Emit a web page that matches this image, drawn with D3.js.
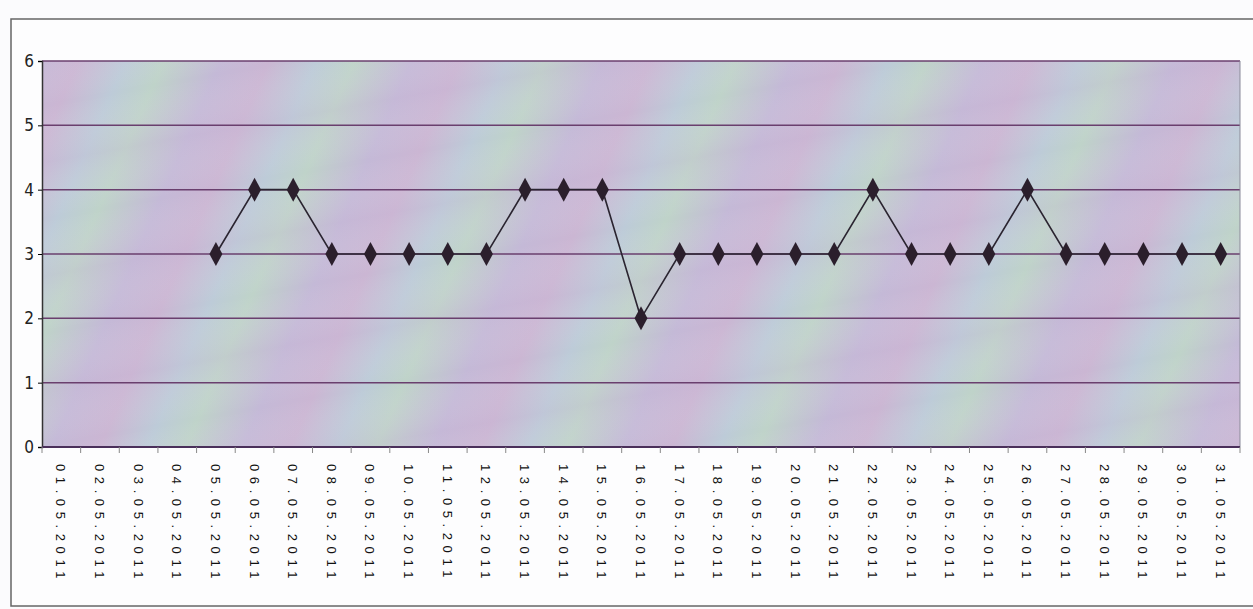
<!DOCTYPE html>
<html>
<head>
<meta charset="utf-8">
<script src="https://cdn.jsdelivr.net/npm/d3@7"></script>
<style>
  body { margin: 0; background: #fbfbfd; }
  svg { display: block; font-family: "Liberation Sans", Arial, sans-serif; }
</style>
</head>
<body>
<svg id="chart" width="1253" height="609"></svg>
<script>
// data
const dates = ["01.05.2011","02.05.2011","03.05.2011","04.05.2011","05.05.2011","06.05.2011",
  "07.05.2011","08.05.2011","09.05.2011","10.05.2011","11.05.2011","12.05.2011","13.05.2011",
  "14.05.2011","15.05.2011","16.05.2011","17.05.2011","18.05.2011","19.05.2011","20.05.2011",
  "21.05.2011","22.05.2011","23.05.2011","24.05.2011","25.05.2011","26.05.2011","27.05.2011",
  "28.05.2011","29.05.2011","30.05.2011","31.05.2011"];
const values = [null,null,null,null,3,4,4,3,3,3,3,3,4,4,4,2,3,3,3,3,3,4,3,3,3,4,3,3,3,3,3];
const yTicks = [0,1,2,3,4,5,6];

const width = 1253, height = 609;
const plot = { left: 42, right: 1240, top: 61, bottom: 447 };

const svg = d3.select("#chart");
const defs = svg.append("defs");

// muted moire bands of the scanned plot area
const g1 = defs.append("linearGradient")
  .attr("id", "bands")
  .attr("gradientUnits", "userSpaceOnUse")
  .attr("spreadMethod", "repeat")
  .attr("x1", 0).attr("y1", 0).attr("x2", 160).attr("y2", 70);
[["0%","#bfd3c9"],["30%","#c4b9d7"],["55%","#cbb6d3"],["80%","#bdcbd8"],["100%","#bfd3c9"]]
  .forEach(s => g1.append("stop").attr("offset", s[0]).attr("stop-color", s[1]));

const g2 = defs.append("linearGradient")
  .attr("id", "bands2")
  .attr("gradientUnits", "userSpaceOnUse")
  .attr("spreadMethod", "repeat")
  .attr("x1", 0).attr("y1", 0).attr("x2", 20).attr("y2", 110);
[["0%","#ffffff",0],["50%","#c9b4d6",0.2],["100%","#ffffff",0]]
  .forEach(s => g2.append("stop").attr("offset", s[0]).attr("stop-color", s[1]).attr("stop-opacity", s[2]));

// outer chart frame
svg.append("rect")
  .attr("x", 11).attr("y", 19)
  .attr("width", 1260).attr("height", 587)
  .attr("fill", "#fdfdfe")
  .attr("stroke", "#666")
  .attr("stroke-width", 1.5);

const x = d3.scaleBand()
  .domain(dates)
  .range([plot.left, plot.right]);

const y = d3.scaleLinear()
  .domain([0, 6])
  .range([plot.bottom, plot.top]);

// plot area
svg.append("rect")
  .attr("x", plot.left).attr("y", plot.top)
  .attr("width", plot.right - plot.left).attr("height", plot.bottom - plot.top)
  .attr("fill", "url(#bands)");
svg.append("rect")
  .attr("x", plot.left).attr("y", plot.top)
  .attr("width", plot.right - plot.left).attr("height", plot.bottom - plot.top)
  .attr("fill", "url(#bands2)");

// gridlines
svg.append("g")
  .selectAll("line")
  .data(yTicks.slice(1))
  .join("line")
  .attr("x1", plot.left).attr("x2", plot.right)
  .attr("y1", d => y(d)).attr("y2", d => y(d))
  .attr("stroke", "#6a3f6e")
  .attr("stroke-width", 1.5);

svg.append("line")
  .attr("x1", plot.right).attr("x2", plot.right)
  .attr("y1", plot.top).attr("y2", plot.bottom)
  .attr("stroke", "#8a8a99");

// Y axis
const yAxis = svg.append("g")
  .attr("transform", "translate(" + plot.left + ",0)")
  .call(d3.axisLeft(y).tickValues(yTicks).tickFormat(d3.format("d")).tickSize(4).tickPadding(4));
yAxis.select(".domain").attr("stroke", "#333").attr("stroke-width", 1.5);
yAxis.selectAll("text")
  .attr("font-family", "'DejaVu Sans Condensed', 'Liberation Sans Narrow', sans-serif")
  .attr("font-size", 17).attr("fill", "#222");

// X axis: ticks between categories
const xAxis = svg.append("g")
  .attr("transform", "translate(0," + plot.bottom + ")");
xAxis.append("line")
  .attr("x1", plot.left).attr("x2", plot.right)
  .attr("stroke", "#4a2f5a").attr("stroke-width", 2);
xAxis.selectAll(".tk")
  .data(dates.concat(["end"]))
  .join("line")
  .attr("class", "tk")
  .attr("x1", (d, i) => plot.left + i * x.bandwidth())
  .attr("x2", (d, i) => plot.left + i * x.bandwidth())
  .attr("y1", 0).attr("y2", 6)
  .attr("stroke", "#888");

xAxis.selectAll(".lbl")
  .data(dates)
  .join("text")
  .attr("class", "lbl")
  .attr("transform", d => "translate(" + (x(d) + x.bandwidth() / 2 - 5) + ",17)rotate(90)")
  .attr("font-size", 13)
  .attr("letter-spacing", 5.6)
  .attr("fill", "#111")
  .text(d => d);

// line + diamond markers
const pts = dates.map((d, i) => ({ d, v: values[i] })).filter(p => p.v !== null);

svg.append("path")
  .datum(pts)
  .attr("fill", "none")
  .attr("stroke", "#2a2430")
  .attr("stroke-width", 1.6)
  .attr("d", d3.line()
    .x(p => x(p.d) + x.bandwidth() / 2)
    .y(p => y(p.v)));

svg.append("g")
  .selectAll("path")
  .data(pts)
  .join("path")
  .attr("transform", p => "translate(" + (x(p.d) + x.bandwidth() / 2) + "," + y(p.v) + ")")
  .attr("d", "M0,-12L6.5,0L0,12L-6.5,0Z")
  .attr("fill", "#2b1f2c");
</script>
</body>
</html>
